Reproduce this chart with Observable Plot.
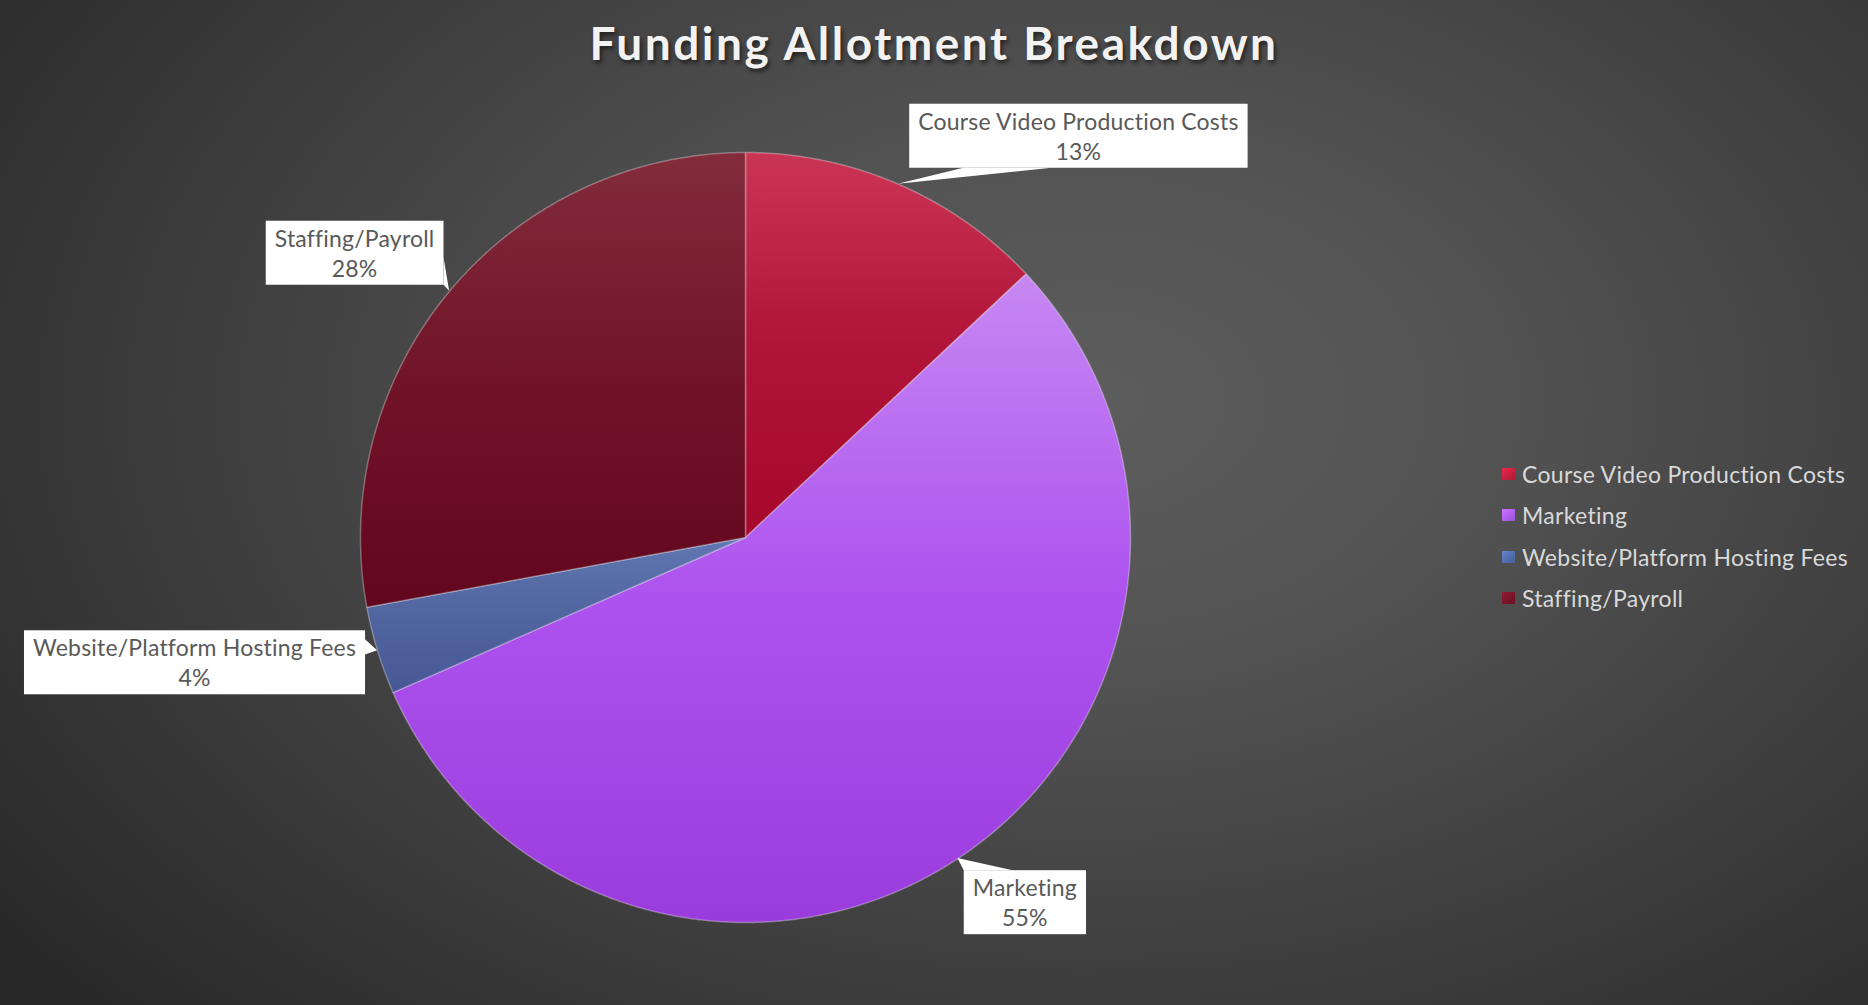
<!DOCTYPE html>
<html><head><meta charset="utf-8">
<script src="https://cdn.jsdelivr.net/npm/d3@7"></script>
<script src="https://cdn.jsdelivr.net/npm/@observablehq/plot@0.6"></script>
<style>
html,body{margin:0;padding:0;}
body{width:1868px;height:1005px;overflow:hidden;background:#333;}
#page{position:relative;width:1868px;height:1005px;
 background:radial-gradient(ellipse 72% 88% at 58% 40%, #5d5d5d 0%, #535353 30%, #404040 62%, #292929 100%);
 font-family:Lato,"Open Sans",sans-serif;}
#title{height:80px;box-sizing:border-box;padding-top:20px;text-align:center;font-size:46px;line-height:46px;font-weight:700;letter-spacing:2.5px;color:#f2f2f2;text-shadow:2px 3px 4px rgba(0,0,0,0.55);}
#chart svg{display:block;}
#legend{position:absolute;left:1502px;top:453px;font-size:23px;letter-spacing:0.3px;color:#d9d9d9;}
.row{height:41.5px;display:flex;align-items:center;white-space:nowrap;}
.sw{width:13px;height:12px;margin-right:7px;flex:none;}
</style></head>
<body>
<div id="page"><div id="title">Funding Allotment Breakdown</div><div id="chart"></div><div id="legend"></div></div>
<svg width="0" height="0" style="position:absolute"><defs id="gdefs"></defs></svg>
<script>
// ---- data ----
const categories = ["Course Video Production Costs", "Marketing", "Website/Platform Hosting Fees", "Staffing/Payroll"];
const values = [13, 55.4, 3.7, 27.9];

// ---- styles ----
const gradientStops = [
  ["#cb3555", "#b01438", "#a6082c"],
  ["#c688f2", "#ad52ef", "#9a3cdc"],
  ["#6077b3", "#51659f", "#475896"],
  ["#822c3c", "#711428", "#62061e"]
];
const swatchColors = ["#c8203f", "#b060f0", "#5470b0", "#7a1528"];
const labelOffsets = [[180, -49], [67, 43], [-183, 11], [-95, -39]];
const callouts = [
  {side: "bottom", a: 0.16, b: 0.42},
  {side: "top", a: 0.0, b: 0.4},
  {side: "right", a: 0.14, b: 0.38},
  {side: "right", a: 0.57, b: 1.0}
];

// gradients
const defs = d3.select("#gdefs");
gradientStops.forEach((s, i) => {
  const g = defs.append("linearGradient").attr("id", "grad" + i).attr("x1", 0).attr("y1", 0).attr("x2", 0).attr("y2", 1);
  g.append("stop").attr("offset", "0%").attr("stop-color", s[0]);
  g.append("stop").attr("offset", "50%").attr("stop-color", s[1]);
  g.append("stop").attr("offset", "100%").attr("stop-color", s[2]);
});

const total = d3.sum(values);
const fmt = d3.format(".0%");
const arcs = d3.pie().sort(null).value(d => d)(values);

const slicePts = [];
arcs.forEach((a, i) => {
  slicePts.push({cat: categories[i], x: 0, y: 0});
  const n = Math.max(2, Math.ceil((a.endAngle - a.startAngle) / 0.004));
  for (let k = 0; k <= n; k++) {
    const t = a.startAngle + (a.endAngle - a.startAngle) * k / n;
    slicePts.push({cat: categories[i], x: Math.sin(t), y: Math.cos(t)});
  }
  slicePts.push({cat: categories[i], x: 0, y: 0});
});

const labelData = arcs.map((a, i) => {
  const m = (a.startAngle + a.endAngle) / 2;
  return {cat: categories[i], x: Math.sin(m), y: Math.cos(m), text: categories[i] + "\n" + fmt(values[i] / total)};
});

const chart = Plot.plot({
  width: 1868, height: 925,
  marginLeft: 360, marginRight: 738, marginTop: 72, marginBottom: 83,
  x: {domain: [-1, 1], axis: null},
  y: {domain: [-1, 1], axis: null},
  color: {domain: categories, range: categories.map((c, i) => `url(#grad${i})`)},
  style: {background: "transparent", overflow: "visible", fontFamily: "Lato, 'Open Sans', sans-serif"},
  marks: [
    Plot.line(slicePts, {x: "x", y: "y", z: "cat", fill: "cat", stroke: "rgba(255,255,255,0.3)", strokeWidth: 1.5, strokeLinejoin: "round"}),
    ...labelData.map((d, i) => Plot.text([d], {
      x: "x", y: "y", text: "text", dx: labelOffsets[i][0], dy: labelOffsets[i][1],
      fill: "#595959", fontSize: 23, lineHeight: 1.3, lineAnchor: "middle", textAnchor: "middle"
    }))
  ]
});
document.getElementById("chart").appendChild(chart);

// label boxes + callout wedges
const svg = d3.select(chart);
svg.selectAll('g[aria-label="text"] text').attr("letter-spacing", "0.2px");
const xs = chart.scale("x"), ys = chart.scale("y");
const svgRect = chart.getBoundingClientRect();
const groups = Array.from(chart.querySelectorAll('g[aria-label="text"]'));
const boxLayer = svg.insert("g", () => groups[0]);
groups.forEach((g, i) => {
  const r = g.querySelector("text").getBoundingClientRect();
  const x0 = r.left - svgRect.left - 9, x1 = r.right - svgRect.left + 9;
  const cy = (r.top + r.bottom) / 2 - svgRect.top;
  const y0 = cy - 32, y1 = cy + 32, w = x1 - x0, h = y1 - y0;
  const tx = xs.apply(labelData[i].x), ty = ys.apply(labelData[i].y);
  const c = callouts[i];
  let p1, p2;
  if (c.side === "bottom") { p1 = [x0 + c.a * w, y1]; p2 = [x0 + c.b * w, y1]; }
  else if (c.side === "top") { p1 = [x0 + c.a * w, y0]; p2 = [x0 + c.b * w, y0]; }
  else if (c.side === "right") { p1 = [x1, y0 + c.a * h]; p2 = [x1, y0 + c.b * h]; }
  else { p1 = [x0, y0 + c.a * h]; p2 = [x0, y0 + c.b * h]; }
  boxLayer.append("path").attr("d", `M${p1}L${tx},${ty}L${p2}Z`).attr("fill", "#ffffff");
  boxLayer.append("rect").attr("x", x0).attr("y", y0).attr("width", w).attr("height", h).attr("fill", "#ffffff");
});

// legend
const legend = d3.select("#legend");
categories.forEach((c, i) => {
  const row = legend.append("div").attr("class", "row");
  row.append("div").attr("class", "sw")
    .style("background", `linear-gradient(135deg, ${d3.color(swatchColors[i]).brighter(0.5)}, ${swatchColors[i]} 50%, ${d3.color(swatchColors[i]).darker(0.4)})`);
  row.append("span").text(c);
});
</script>
</body></html>
